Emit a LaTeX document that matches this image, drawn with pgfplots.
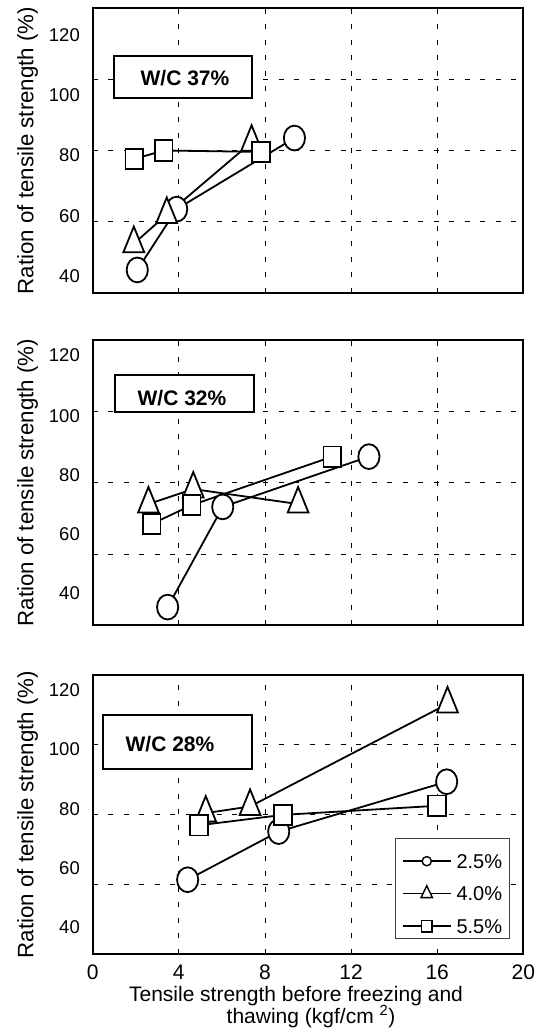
\documentclass[border=0pt]{standalone}
\usepackage{fontspec}
\setmainfont{Liberation Sans}
\usepackage{pgfplots}
\usepackage{pgfplotstable}
\pgfplotsset{compat=1.18}
\newcommand\fs[1]{\fontsize{#1}{#1}\selectfont}
\newcommand\yf[1]{{\fontsize{18.5}{18.5}\selectfont #1}}
\newcommand\xf[1]{{\fontsize{21}{21}\selectfont #1}}

% Panel 1: W/C 37%
\pgfplotstableread{
x y
2.07 46.4
3.90 63.5
9.37 83.5
}\pAc
\pgfplotstableread{
x y
1.91 53.8
3.44 62.0
7.38 82.3
}\pAt
\pgfplotstableread{
x y
1.93 77.6
3.30 80.0
7.81 79.6
}\pAs
% Panel 2: W/C 32%
\pgfplotstableread{
x y
3.48 45.1
6.04 73.2
12.83 87.3
}\pBc
\pgfplotstableread{
x y
2.59 74.0
4.67 78.2
9.54 74.0
}\pBt
\pgfplotstableread{
x y
2.74 68.4
4.60 73.7
11.13 87.3
}\pBs
% Panel 3: W/C 28%
\pgfplotstableread{
x y
4.41 61.3
8.64 75.1
16.44 89.4
}\pCc
\pgfplotstableread{
x y
5.25 80.4
7.31 82.3
16.48 111.7
}\pCt
\pgfplotstableread{
x y
4.93 76.9
8.84 79.9
16.00 82.5
}\pCs

\pgfplotsset{
  panel/.style={
    scale only axis, width=430.6pt,
    xmin=0, xmax=20, ymin=40, ymax=120,
    xtick={0,4,8,12,16,20},
    yticklabels={\yf{40},\yf{60},\yf{80},\yf{100},\yf{120}},
    xmajorgrids=true, ymajorgrids=false,
    major grid style={black, line width=0.7pt, dash pattern=on 5pt off 10.5pt},
    tick align=inside, tick pos=left, major tick length=5pt,
    xtick style={black, line width=0.8pt},
    ytick style={draw=none},
    axis line style={line width=2pt},
    clip=false,
    yticklabel style={anchor=east, inner sep=0pt, xshift=-12.7pt},
    xticklabel style={anchor=north, inner sep=0pt, yshift=-11pt},
    extra y ticks={60,80,100},
    extra y tick labels={},
    extra y tick style={grid=major, ytick style={draw=black, line width=0.8pt}},
    ylabel={Ration of tensile strength (\%)},
    ylabel style={font=\fs{22.3}, at={(axis description cs:-0.1375,0.5)}, anchor=base},
  },
  ln/.style={black, line width=1.8pt, mark=none, forget plot},
  circ/.style={only marks, mark=*, mark size=10.6pt, mark options={fill=white, draw=black, line width=1.8pt, yscale=1.17}, forget plot},
  tri/.style={only marks, mark=triangle*, mark size=12pt, mark options={fill=white, draw=black, line width=1.8pt, yscale=1.42}, forget plot},
  sqr/.style={only marks, mark=square*, mark size=8.8pt, mark options={fill=white, draw=black, line width=1.8pt, yscale=1.16}, forget plot},
}

\begin{document}
\begin{tikzpicture}
\path[use as bounding box] (0pt,0pt) rectangle (542pt,1030pt);

% ---------- Panel 1 ----------
\begin{axis}[panel, height=284.4pt, at={(92.7pt,737.3pt)}, anchor=south west,
  xticklabels={},
  ytick={44.7,61.4,78.7,95.6,112.5}]
  \addplot[ln] table {\pAc};
  \addplot[ln] table {\pAt};
  \addplot[ln] table {\pAs};
  \addplot[circ] table {\pAc};
  \addplot[tri] table {\pAt};
  \addplot[sqr] table {\pAs};
\end{axis}

% ---------- Panel 2 ----------
\begin{axis}[panel, height=285.3pt, at={(92.7pt,404.7pt)}, anchor=south west,
  xticklabels={},
  ytick={49.0,65.5,82.1,98.7,115.8}]
  \addplot[ln] table {\pBc};
  \addplot[ln] table {\pBt};
  \addplot[ln] table {\pBs};
  \addplot[circ] table {\pBc};
  \addplot[tri] table {\pBt};
  \addplot[sqr] table {\pBs};
\end{axis}

% ---------- Panel 3 ----------
\begin{axis}[panel, height=279pt, at={(92.7pt,76pt)}, anchor=south west,
  xticklabels={\xf{0},\xf{4},\xf{8},\xf{12},\xf{16},\xf{20}},
  ytick={47.8,64.6,81.5,98.7,115.7},
  legend image code/.code={\draw[mark repeat=2,mark phase=2] plot coordinates {(0pt,6.9pt) (24pt,6.9pt) (48pt,6.9pt)};},
  legend style={at={(axis description cs:0.7021,0.4158)}, anchor=north west,
    draw=black!75, line width=0.6pt, fill=white, font=\fs{20},
    inner xsep=6.7pt, inner ysep=4.8pt, row sep=7.5pt, column sep=5pt,
    cells={anchor=base west},
    nodes={inner sep=0pt, text height=25pt, text depth=0pt}},
  ]
  \addplot[ln] table {\pCc};
  \addplot[ln] table {\pCt};
  \addplot[ln] table {\pCs};
  \addplot[circ] table {\pCc};
  \addplot[tri] table {\pCt};
  \addplot[sqr] table {\pCs};
  \addlegendimage{black, line width=1.5pt, mark=*, mark size=4.6pt, mark options={fill=white, line width=1.4pt}}
  \addlegendentry{2.5\%}
  \addlegendimage{black, line width=1.5pt, mark=triangle*, mark size=6.6pt, mark options={fill=white, line width=1.4pt, yscale=1.2}}
  \addlegendentry{4.0\%}
  \addlegendimage{black, line width=1.5pt, mark=square*, mark size=5.3pt, mark options={fill=white, line width=1.4pt, yscale=1.12}}
  \addlegendentry{5.5\%}
\end{axis}

% ---------- W/C labels ----------
\node[draw=black, line width=2pt, fill=white, minimum width=138pt, minimum height=42pt, inner sep=0pt] at (183pt,953pt) {};
\node[font=\fs{21}\bfseries, inner sep=0pt] at (185pt,951.7pt) {W/C 37\%};
\node[draw=black, line width=2pt, fill=white, minimum width=139pt, minimum height=37pt, inner sep=0pt] at (184.5pt,636.5pt) {};
\node[font=\fs{21}\bfseries, inner sep=0pt] at (182pt,632pt) {W/C 32\%};
\node[draw=black, line width=2pt, fill=white, minimum width=149pt, minimum height=54pt, inner sep=0pt] at (177.2pt,288pt) {};
\node[font=\fs{21}\bfseries, inner sep=0pt] at (170pt,286.2pt) {W/C 28\%};

% ---------- x axis title ----------
\node[font=\fs{21}, anchor=base, inner sep=0pt] at (296pt,28.3pt) {Tensile strength before freezing and};
\node[font=\fs{21}, anchor=base, inner sep=0pt] at (311pt,6.7pt) {thawing (kgf/cm \textsuperscript{2})};
\end{tikzpicture}
\end{document}
